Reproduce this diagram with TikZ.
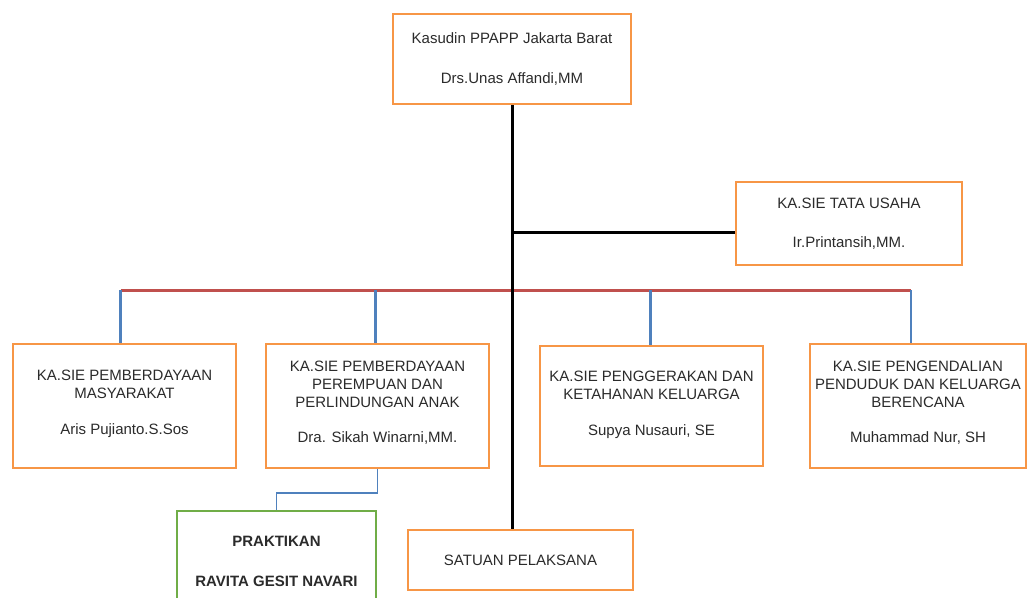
\documentclass[tikz,border=0pt]{standalone}
\usepackage{fontspec}
\setmainfont{Liberation Sans}
\usepackage{xcolor}
\usepackage{tikz}
\usetikzlibrary{positioning, calc}
\definecolor{orgOrange}{HTML}{F79646}
\definecolor{orgRed}{HTML}{C0504D}
\definecolor{orgBlue}{HTML}{4F81BD}
\definecolor{orgGreen}{HTML}{70AD47}
\definecolor{orgText}{HTML}{2B2B2B}
\tikzset{
  unitbox/.style={
    rectangle,
    draw=orgOrange, line width=2pt,
    fill=white,
    inner sep=2pt,
    align=center,
    text=orgText,
    font=\fontsize{15}{18}\selectfont
  },
  internbox/.style={
    unitbox,
    draw=orgGreen, line width=2.6pt,
    font=\fontsize{15}{18}\selectfont\bfseries
  },
  trunk/.style={black, line width=3pt},
  bus/.style={orgRed, line width=3pt},
  drop/.style={orgBlue, line width=2.6pt},
  link/.style={orgBlue, line width=1.2pt}
}

\begin{document}
\begin{tikzpicture}[x=1pt, y=-1pt]
      \useasboundingbox (0,0) rectangle (1027,597);
      \clip (0,0) rectangle (1027,597);
      % Head of office
      \node[unitbox, minimum width=238pt, minimum height=90pt] (kasudin) at (512,59) {Kasudin PPAPP Jakarta Barat\\[22pt]Drs.Unas Affandi,MM};
      % Administration
      \node[unitbox, minimum width=226pt, minimum height=83pt] (tatausaha) at (849,223.5) {KA.SIE TATA USAHA\\[21pt]Ir.Printansih,MM.};
      % Sections
      \node[unitbox, minimum width=223pt, minimum height=124pt, text depth=8pt] (sieMas) at (124.5,406) {KA.SIE PEMBERDAYAAN\\MASYARAKAT\\[18pt]Aris Pujianto.S.Sos};
      \node[unitbox, minimum width=223pt, minimum height=124pt, text depth=8pt] (siePpa) at (377.5,406) {KA.SIE PEMBERDAYAAN\\PEREMPUAN DAN\\PERLINDUNGAN ANAK\\[17pt]Dra. Sikah Winarni,MM.};
      \node[unitbox, minimum width=223pt, minimum height=120pt, text depth=6pt] (siePkk) at (651.5,406) {KA.SIE PENGGERAKAN DAN\\KETAHANAN KELUARGA\\[18pt]Supya Nusauri, SE};
      \node[unitbox, minimum width=216pt, minimum height=124pt, text depth=8pt] (siePkb) at (918,406) {KA.SIE PENGENDALIAN\\PENDUDUK DAN KELUARGA\\BERENCANA\\[17pt]Muhammad Nur, SH};
      % Intern and executing unit
      \node[internbox, minimum width=199pt, minimum height=100pt] (praktikan) at (276.5,561) {PRAKTIKAN\\[22pt]RAVITA GESIT NAVARI};
      \node[unitbox, minimum width=225pt, minimum height=60pt] (satuan) at (520.5,560) {SATUAN PELAKSANA};
      % Lines
      \coordinate (busline) at (0,290);
      \coordinate (tujunc) at (511,232);
      \draw[bus] ($(sieMas.north |- busline)+(-4,0)$) -- ($(siePkb.north |- busline)+(-7,0)$);
      \foreach \sie/\dx in {sieMas/-4, siePpa/-2, siePkk/-1, siePkb/-7}
        \draw[drop] ($(\sie.north |- busline)+(\dx,0)$) -- ($(\sie.north)+(\dx,0)$);
      \draw[trunk] (kasudin.south) -- (kasudin.south |- satuan.north);
      \draw[trunk] (tujunc) -- (tujunc -| tatausaha.west);
      \draw[link] (siePpa.south) -- ++(0,24) -| (praktikan.north);
    \end{tikzpicture}
\end{document}
